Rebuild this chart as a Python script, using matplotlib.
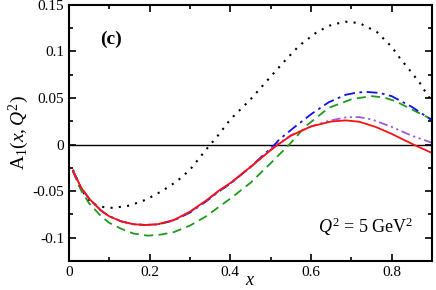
import matplotlib
matplotlib.use("Agg")
import matplotlib.pyplot as plt
from matplotlib.ticker import MultipleLocator

plt.rcParams["font.family"] = ["Liberation Serif", "DejaVu Serif"]
plt.rcParams["mathtext.fontset"] = "custom"
plt.rcParams["mathtext.rm"] = "Liberation Serif"
plt.rcParams["mathtext.it"] = "Liberation Serif:italic"
plt.rcParams["mathtext.bf"] = "Liberation Serif:bold"

# values
x_black = [0.01, 0.03, 0.056, 0.08, 0.109, 0.15, 0.192, 0.23, 0.266, 0.3, 0.34, 0.368,
           0.4, 0.45, 0.5, 0.533, 0.57, 0.615, 0.65, 0.685, 0.72, 0.763, 0.8, 0.82,
           0.85, 0.87, 0.883, 0.9]
y_black = [-0.027, -0.048, -0.063, -0.0668, -0.068, -0.0655, -0.059, -0.050, -0.040,
           -0.027, -0.0054, 0.009, 0.027, 0.0485, 0.073, 0.089, 0.106, 0.121, 0.1285,
           0.132, 0.1305, 0.121, 0.105, 0.093, 0.077, 0.066, 0.057, 0.046]

x_red = [0.01, 0.03, 0.05, 0.08, 0.1, 0.13, 0.16, 0.19, 0.22, 0.26, 0.3, 0.34, 0.373,
         0.4, 0.45, 0.5, 0.518, 0.55, 0.6, 0.65, 0.686, 0.72, 0.76, 0.8, 0.854, 0.9]
y_red = [-0.028, -0.046, -0.058, -0.071, -0.077, -0.0825, -0.0855, -0.0863, -0.0855,
         -0.081, -0.072, -0.060, -0.049, -0.0413, -0.024, -0.006, 0.0, 0.0095, 0.0195,
         0.0248, 0.026, 0.0245, 0.019, 0.0115, 0.0, -0.009]

x_blue = [0.01, 0.03, 0.05, 0.08, 0.1, 0.13, 0.16, 0.19, 0.22, 0.26, 0.3, 0.34, 0.373,
          0.4, 0.45, 0.51, 0.521, 0.562, 0.603, 0.644, 0.686, 0.715, 0.739, 0.77, 0.8,
          0.85, 0.9]
y_blue = [-0.028, -0.046, -0.058, -0.071, -0.077, -0.0825, -0.0855, -0.0863, -0.0858,
          -0.0815, -0.073, -0.061, -0.050, -0.042, -0.024, 0.0, 0.0054, 0.0198, 0.0335,
          0.0455, 0.0535, 0.056, 0.0565, 0.0555, 0.052, 0.0405, 0.026]

x_green = [0.01, 0.03, 0.05, 0.08, 0.1, 0.13, 0.16, 0.196, 0.23, 0.26, 0.3, 0.34, 0.373,
           0.4, 0.45, 0.5, 0.546, 0.587, 0.644, 0.702, 0.75, 0.78, 0.809, 0.858, 0.9]
y_green = [-0.029, -0.049, -0.063, -0.077, -0.084, -0.0905, -0.0955, -0.0978, -0.0965,
           -0.094, -0.087, -0.077, -0.0665, -0.058, -0.041, -0.020, 0.0, 0.0198, 0.0395,
           0.049, 0.052, 0.0507, 0.0467, 0.036, 0.027]

x_purple = [0.01, 0.03, 0.05, 0.08, 0.1, 0.13, 0.16, 0.19, 0.22, 0.26, 0.3, 0.34, 0.373,
            0.4, 0.45, 0.5, 0.515, 0.55, 0.6, 0.644, 0.689, 0.72, 0.751, 0.8, 0.85,
            0.883, 0.9]
y_purple = [-0.028, -0.046, -0.058, -0.071, -0.077, -0.0825, -0.0855, -0.0863, -0.0856,
            -0.0812, -0.0725, -0.0605, -0.0495, -0.0418, -0.0245, -0.0055, 0.0, 0.010,
            0.0195, 0.0255, 0.0295, 0.0295, 0.027, 0.019, 0.0095, 0.0045, 0.002]

fig = plt.figure(figsize=(4.36, 2.90), dpi=100)
ax = fig.add_axes([0.158, 0.1, 0.833, 0.883])

ax.axhline(0, color="black", lw=1.0)
ax.plot(x_black, y_black, color="black", ls=(0, (1, 3)), lw=1.5)
ax.plot(x_green, y_green, color="#1e9a1e", ls=(0, (5, 3)), lw=1.3)
ax.plot(x_blue, y_blue, color="#1010ee", ls=(0, (6, 2.5, 1.5, 2.5)), lw=1.3)
ax.plot(x_purple, y_purple, color="#9a5ce0", ls=(0, (5, 2, 1.2, 2, 1.2, 2)), lw=1.3)
ax.plot(x_red, y_red, color="#ff1010", ls="-", lw=1.3)

ax.set_xlim(0, 0.9)
ax.set_ylim(-0.125, 0.15)
ax.xaxis.set_minor_locator(MultipleLocator(0.1))
ax.yaxis.set_minor_locator(MultipleLocator(0.025))
ax.set_xticks([0, 0.2, 0.4, 0.6, 0.8])
ax.set_xticklabels(["0", "0.2", "0.4", "0.6", "0.8"])
ax.set_yticks([-0.1, -0.05, 0, 0.05, 0.1, 0.15])
ax.set_yticklabels(["-0.1", "-0.05", "0", "0.05", "0.1", "0.15"])
ax.tick_params(which="both", direction="in", top=True, right=True, labelsize=11, width=1.2)
ax.tick_params(which="major", length=5)
ax.tick_params(which="minor", length=3)
for s in ax.spines.values():
    s.set_linewidth(1.5)

ax.set_xlabel("$x$", fontsize=13, labelpad=-5)
ax.set_ylabel(r"$\mathrm{A}_1(x,Q^2)$", fontsize=14, labelpad=1)

ax.text(0.077, 0.113, "(c)", fontsize=14, fontweight="bold", va="center")
ax.text(0.617, -0.088, "$Q^2$ = 5 GeV$^2$", fontsize=13, va="center")

fig.savefig("out.png", dpi=100)
